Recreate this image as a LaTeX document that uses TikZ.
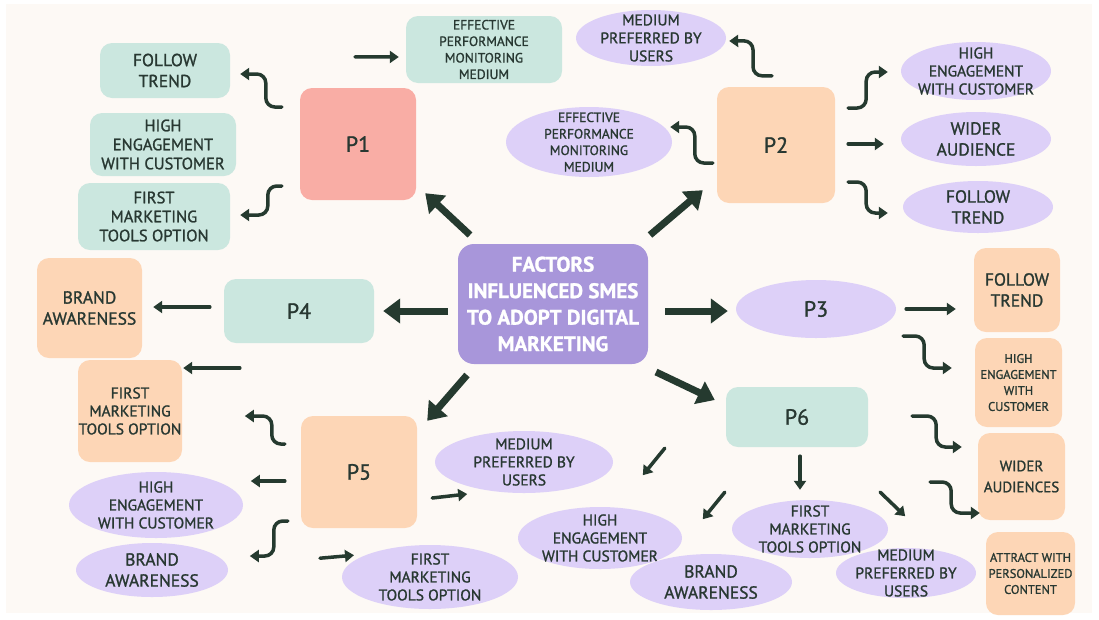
\documentclass[tikz,border=0pt]{standalone}
\usepackage{fontspec}
\setmainfont{PT Sans}[FakeBold=1.2]
\usetikzlibrary{arrows.meta,shapes.geometric}
\definecolor{cream}{RGB}{253,249,245}
\definecolor{mint}{RGB}{203,231,223}
\definecolor{peach}{RGB}{253,214,182}
\definecolor{pinkbox}{RGB}{249,173,165}
\definecolor{lav}{RGB}{221,208,248}
\definecolor{cpurple}{RGB}{168,150,218}
\definecolor{dark}{RGB}{37,58,47}
\definecolor{ink}{RGB}{40,56,50}
\newcommand\fBig{\fontsize{21}{26.5}\selectfont\bfseries}
\newcommand\fPl{\fontsize{22}{26}\selectfont}
\newcommand\fMd{\fontsize{17.5}{21}\selectfont}
\newcommand\fMs{\fontsize{15}{21}\selectfont}
\newcommand\fSb{\fontsize{16.5}{19}\selectfont}
\newcommand\fSm{\fontsize{15.5}{18}\selectfont}
\newcommand\fTn{\fontsize{13.5}{16.5}\selectfont}
\newcommand\fTs{\fontsize{12.5}{16}\selectfont}
\tikzset{
  box/.style={rounded corners=12pt, inner sep=0pt, align=center, text=ink},
  oval/.style={ellipse, fill=lav, inner sep=0pt, text=ink},
  lbl/.style={align=center, text=ink, inner sep=0pt},
  arr/.style={draw=dark, line width=3.5pt, line cap=round, -{Triangle[width=12pt,length=9pt]}},
  elb/.style={arr, rounded corners=9pt},
  bigarr/.style={draw=dark, line width=7pt, -{Triangle[width=24pt,length=17pt]}},
}
\begin{document}
\begin{tikzpicture}[x=1pt,y=-1pt]
\useasboundingbox (0,0) rectangle (1099,619);
\fill[white] (0,0) rectangle (1099,619);
\fill[cream] (6,4) rectangle (1092,613);

% centre
\node[box, fill=cpurple, text=white, rounded corners=16pt, minimum width=190pt, minimum height=120pt, font=\fBig] (C) at (553,304) {FACTORS\\INFLUENCED SMES\\TO ADOPT DIGITAL\\MARKETING};

% P1 group
\node[box, fill=pinkbox, minimum width=116pt, minimum height=112pt, font=\fPl] (P1) at (358,144) {P1};
\node[box, fill=mint, minimum width=130pt, minimum height=55pt, font=\fMd] (ft1) at (165,70.5) {FOLLOW\\TREND};
\node[box, fill=mint, minimum width=146pt, minimum height=63pt, font=\fSb] (he1) at (163,144.5) {HIGH\\ENGAGEMENT\\WITH CUSTOMER};
\node[box, fill=mint, minimum width=152pt, minimum height=67pt, font=\fSb] (fm1) at (154,216.5) {FIRST\\MARKETING\\TOOLS OPTION};
\node[box, fill=mint, minimum width=156pt, minimum height=67pt, font=\fTn] (ep1) at (484,49.5) {EFFECTIVE\\PERFORMANCE\\MONITORING\\MEDIUM};

% P2 group
\node[box, fill=peach, minimum width=118pt, minimum height=116pt, font=\fPl] (P2) at (776,145) {P2};
\node[oval, minimum width=150pt, minimum height=56pt] (mp2) at (651,38) {};
\node[lbl, font=\fSm] (mp2t) at (mp2) {MEDIUM\\PREFERRED BY\\USERS};
\node[oval, minimum width=166pt, minimum height=70pt] (ep2) at (589,142) {};
\node[lbl, font=\fTn] (ep2t) at (ep2) {EFFECTIVE\\PERFORMANCE\\MONITORING\\MEDIUM};
\node[oval, minimum width=150pt, minimum height=58pt] (he2) at (976,71) {};
\node[lbl, font=\fSm] (he2t) at (he2) {HIGH\\ENGAGEMENT\\WITH CUSTOMER};
\node[oval, minimum width=150pt, minimum height=54pt] (wa2) at (976,139) {};
\node[lbl, font=\fMd] (wa2t) at (wa2) {WIDER\\AUDIENCE};
\node[oval, minimum width=150pt, minimum height=52pt] (ft2) at (978,207) {};
\node[lbl, font=\fMd] (ft2t) at (ft2) {FOLLOW\\TREND};

% P3 group
\node[oval, minimum width=160pt, minimum height=58pt, font=\fPl] (P3) at (816,309) {P3};
\node[box, fill=peach, minimum width=86pt, minimum height=84pt, font=\fMd] (ft3) at (1017,290) {FOLLOW\\TREND};
\node[box, fill=peach, minimum width=87pt, minimum height=89pt, font=\fTs] (he3) at (1018.5,382.5) {HIGH\\ENGAGEMENT\\WITH\\CUSTOMER};

% P6 group
\node[box, fill=mint, minimum width=142pt, minimum height=60pt, font=\fPl] (P6) at (797,417) {P6};
\node[box, fill=peach, minimum width=87pt, minimum height=87pt, font=\fMs] (wa3) at (1021.5,476.5) {WIDER\\AUDIENCES};
\node[box, fill=peach, minimum width=89pt, minimum height=83pt, font=\fTs] (ac) at (1030.5,573.5) {ATTRACT WITH\\PERSONALIZED\\CONTENT};
\node[oval, minimum width=178pt, minimum height=62pt] (mp5) at (524,462) {};
\node[lbl, font=\fSm] (mp5t) at (mp5) {MEDIUM\\PREFERRED BY\\USERS};
\node[oval, minimum width=164pt, minimum height=62pt] (he6) at (600,538) {};
\node[lbl, font=\fSm] (he6t) at (he6) {HIGH\\ENGAGEMENT\\WITH CUSTOMER};
\node[oval, minimum width=162pt, minimum height=56pt] (ba6) at (711,582) {};
\node[lbl, font=\fMd] (ba6t) at (ba6) {BRAND\\AWARENESS};
\node[oval, minimum width=156pt, minimum height=58pt] (fm6) at (810,529) {};
\node[lbl, font=\fSm] (fm6t) at (fm6) {FIRST\\MARKETING\\TOOLS OPTION};
\node[oval, minimum width=140pt, minimum height=50pt] (mp6) at (906,573) {};
\node[lbl, font=\fSm] (mp6t) at (mp6) {MEDIUM\\PREFERRED BY\\USERS};

% P4 group
\node[box, fill=mint, minimum width=150pt, minimum height=64pt, font=\fPl] (P4) at (299,311) {P4};
\node[box, fill=peach, minimum width=105pt, minimum height=100pt, font=\fMd] (ba4) at (89.5,308) {BRAND\\AWARENESS};
\node[box, fill=peach, minimum width=104pt, minimum height=102pt, font=\fSm] (fm5) at (130,411) {FIRST\\MARKETING\\TOOLS OPTION};

% P5 group
\node[box, fill=peach, minimum width=116pt, minimum height=112pt, font=\fPl] (P5) at (359,472) {P5};
\node[oval, minimum width=174pt, minimum height=66pt] (he5) at (156,505) {};
\node[lbl, font=\fSm] (he5t) at (he5) {HIGH\\ENGAGEMENT\\WITH CUSTOMER};
\node[oval, minimum width=152pt, minimum height=54pt] (ba5) at (152,570) {};
\node[lbl, font=\fMd] (ba5t) at (ba5) {BRAND\\AWARENESS};
\node[oval, minimum width=176pt, minimum height=64pt] (fm5b) at (430,577) {};
\node[lbl, font=\fSm] (fm5bt) at (fm5b) {FIRST\\MARKETING\\TOOLS OPTION};

% centre arrows
\draw[bigarr] ([shift={(-83,-69)}]C.center) -- ([shift={(9,-7)}]P1.south east);
\draw[bigarr] ([shift={(97,-69)}]C.center) -- ([shift={(-14,-13)}]P2.south west);
\draw[bigarr] ([shift={(-105,7)}]C.center) -- ([shift={(9,0)}]P4.east);
\draw[bigarr] ([shift={(112,7)}]C.center) -- ([shift={(-8,2)}]P3.west);
\draw[bigarr] ([shift={(-86,71)}]C.center) -- ([shift={(10,5)}]P5.north east);
\draw[bigarr] ([shift={(103,68)}]C.center) -- ([shift={(-11,-17)}]P6.west);

% P1 arrows
\draw[elb] ([shift={(-18,-37)}]P1.west) -- ++(-16,0) -- ++(0,-33) -- ([shift={(10,3.5)}]ft1.east);
\draw[elb] ([shift={(-18,42)}]P1.west) -- ++(-14,0) -- ++(0,29) -- ([shift={(10,-1.5)}]fm1.east);
\draw[arr] ([shift={(-3,-31)}]P1.north) -- ([shift={(-7,7.5)}]ep1.west);

% P2 arrows
\draw[elb] ([shift={(-4,-11)}]P2.north) -- ++(-19,0) -- ++(0,-35) -- ([shift={(3,3)}]mp2.east);
\draw[elb] ([shift={(-4,18)}]P2.west) -- ++(-18,0) -- ++(0,-36) -- ([shift={(-2,-15)}]ep2.east);
\draw[elb] ([shift={(13,-37)}]P2.east) -- ++(18,0) -- ++(0,-36) -- ([shift={(-13,1)}]he2.west);
\draw[arr] ([shift={(13,-1)}]P2.east) -- ([shift={(-17,5)}]wa2.west);
\draw[elb] ([shift={(13,37)}]P2.east) -- ++(18,0) -- ++(0,31) -- ([shift={(-15,6)}]ft2.west);

% P3 arrows
\draw[arr] ([shift={(10,0)}]P3.east) -- ([shift={(-18,19)}]ft3.west);
\draw[elb] ([shift={(7,27)}]P3.east) -- ++(21,0) -- ++(0,32) -- ([shift={(-23,-14.5)}]he3.west);

% P6 arrows
\draw[elb] ([shift={(44,-1)}]P6.east) -- ++(24,0) -- ++(0,31) -- ([shift={(-16,-29.5)}]wa3.west);
\draw[elb] ([shift={(62,65)}]P6.east) -- ++(21,0) -- ++(0,31) -- ([shift={(2,36.5)}]wa3.west);
\draw[arr] ([shift={(3,9)}]P6.south) -- ([shift={(-10,-10)}]fm6.north);
\draw[arr] ([shift={(-61,1)}]P6.south west) -- ([shift={(-83,28)}]P6.south west);
\draw[arr] ([shift={(-1,45)}]P6.south west) -- ([shift={(-23,72)}]P6.south west);
\draw[arr] ([shift={(12,45)}]P6.south east) -- ([shift={(37,69)}]P6.south east);

% P4 arrows
\draw[arr] ([shift={(-14,-4)}]P4.west) -- ([shift={(11,-1)}]ba4.east);
\draw[arr] ([shift={(16,57)}]P4.west) -- ([shift={(1,-43)}]fm5.east);

% P5 arrows
\draw[elb] ([shift={(-16,-28)}]P5.west) -- ++(-13,0) -- ++(0,-28) -- ([shift={(-56,-56)}]P5.west);
\draw[arr] ([shift={(-16,9)}]P5.west) -- ([shift={(-50,9)}]P5.west);
\draw[elb] ([shift={(-13,49)}]P5.west) -- ++(-14,0) -- ++(0,35) -- ([shift={(-51,84)}]P5.west);
\draw[arr] ([shift={(-39,30)}]P5.south) -- ([shift={(-5,27)}]P5.south);
\draw[arr] ([shift={(15,26)}]P5.east) -- ([shift={(50,22)}]P5.east);
\end{tikzpicture}
\end{document}
